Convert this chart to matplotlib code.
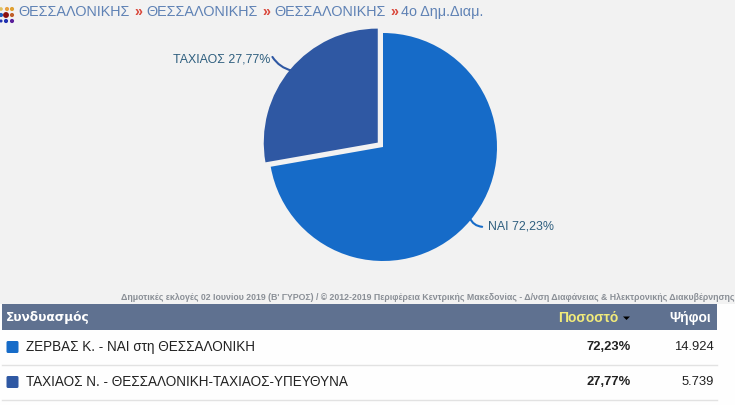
"""
Pie of the runoff result with its breadcrumb and table underneath.
"""
import matplotlib
matplotlib.use("Agg")
import matplotlib.pyplot as plt
from matplotlib.patches import FancyBboxPatch, Polygon, Rectangle

W, H = 735, 405
BG = "#F2F2F2"
HEADER = "#5F7190"
RULE = "#E2E2E2"
LINK = "#5F82B5"
RED = "#D9473A"
LABEL = "#2F5F7F"

pie_labels = ["ΝΑΙ 72,23%", "ΤΑΧΙΑΟΣ 27,77%"]
pie_values = [72.23, 27.77]
pie_colors = ["#166BC8", "#2F58A3"]
explode = [0, 0.06]

crumbs = ["ΘΕΣΣΑΛΟΝΙΚΗΣ", "ΘΕΣΣΑΛΟΝΙΚΗΣ", "ΘΕΣΣΑΛΟΝΙΚΗΣ", "4ο Δημ.Διαμ."]
crumb_x = [18, 146, 274, 401]
sep_x = [134, 262, 390]

names = ["ΖΕΡΒΑΣ Κ. - ΝΑΙ στη ΘΕΣΣΑΛΟΝΙΚΗ", "ΤΑΧΙΑΟΣ Ν. - ΘΕΣΣΑΛΟΝΙΚΗ-ΤΑΧΙΑΟΣ-ΥΠΕΥΘΥΝΑ"]
percents = ["72,23%", "27,77%"]
votes = ["14.924", "5.739"]
source = ("Δημοτικές εκλογές 02 Ιουνίου 2019 (Β' ΓΥΡΟΣ) / © 2012-2019 Περιφέρεια Κεντρικής "
          "Μακεδονίας - Δ/νση Διαφάνειας & Ηλεκτρονικής Διακυβέρνησης")

dot_x = [1, 7, 12, 1, 6, 12, 1, 6, 12]
dot_y = [9, 9, 9, 15, 15, 15, 21, 21, 21]
dot_sizes = [7, 9, 9, 9, 18, 9, 5, 9, 9]
dot_colors = ["#E0C060", "#E8A040", "#E0A030", "#2060C0", "#8B1010", "#C0602A", "#2030B0", "#2030B0", "#5A1E9A"]

plt.rcParams["font.family"] = ["Liberation Sans", "DejaVu Sans"]

fig = plt.figure(figsize=(W / 100, H / 100), dpi=100)
fig.patch.set_facecolor(BG)

# overlay in pixel coordinates for the page furniture
page = fig.add_axes([0, 0, 1, 1])
page.set_xlim(0, W)
page.set_ylim(H, 0)
page.axis("off")

page.add_patch(Rectangle((0, 304), W, H - 304, color="#FEFEFE", lw=0))
page.add_patch(Rectangle((2, 304), 715, 26, color=HEADER, lw=0))
page.plot([2, 717], [364.5, 364.5], color=RULE, lw=1)
page.plot([2, 717], [399.5, 399.5], color=RULE, lw=1)

page.scatter(dot_x, dot_y, c=dot_colors, s=dot_sizes, lw=0)
for label, x in zip(crumbs, crumb_x):
    page.text(x, 12, label, color=LINK, fontsize=10.4, va="center")
for x in sep_x:
    page.text(x, 12, "»", color=RED, fontsize=10.4, fontweight="bold", va="center")

page.text(735, 297, source, color="#8A8F96", fontsize=6.3, fontweight="bold", ha="right", va="center")

page.text(6, 318, "Συνδυασμός", color="white", fontsize=9.7, fontweight="bold", va="center",
          family=["DejaVu Sans"], stretch="condensed")
page.text(618, 318, "Ποσοστό", color="#F2EB7A", fontsize=10, fontweight="bold", ha="right", va="center")
page.add_patch(Polygon([[623, 316.5], [630, 316.5], [626.5, 320]], color="black", lw=0))
page.text(711, 318, "Ψήφοι", color="white", fontsize=10, fontweight="bold", ha="right", va="center")

for i, name in enumerate(names):
    y = 347 + i * 35
    page.add_patch(FancyBboxPatch((6.5, y - 6), 12, 12, boxstyle="round,pad=0,rounding_size=1.5",
                                  color=pie_colors[i], lw=0))
    page.text(26, y, name, color="#222222", fontsize=9.75, va="center")
    page.text(631, y, percents[i], color="#222222", fontsize=9.4, fontweight="bold", ha="right", va="center")
    page.text(714, y, votes[i], color="#222222", fontsize=9.4, ha="right", va="center")

# pie axes: 285 px square so that radius 1 is 114 px
ax = fig.add_axes([(383 - 142.5) / W, 1 - (147 + 142.5) / H, 285 / W, 285 / H])
ax.patch.set_alpha(0)
ax.pie(pie_values, colors=pie_colors, explode=explode, startangle=90, counterclock=False,
       wedgeprops={"linewidth": 0})

ax.text(0.92, -0.70, pie_labels[0], color=LABEL, fontsize=8.9, va="center")
ax.text(-0.99, 0.77, pie_labels[1], color=LABEL, fontsize=8.9, ha="right", va="center")
ax.annotate("", xy=(0.76, -0.62), xytext=(0.87, -0.70),
            arrowprops={"arrowstyle": "-", "color": pie_colors[0], "lw": 1.5,
                        "connectionstyle": "arc3,rad=-0.3", "shrinkA": 0, "shrinkB": 0})
ax.annotate("", xy=(-0.80, 0.67), xytext=(-0.97, 0.79),
            arrowprops={"arrowstyle": "-", "color": pie_colors[1], "lw": 1.5,
                        "connectionstyle": "arc3,rad=0.2", "shrinkA": 0, "shrinkB": 0})

fig.savefig("out.png", dpi=100, facecolor=fig.get_facecolor())
